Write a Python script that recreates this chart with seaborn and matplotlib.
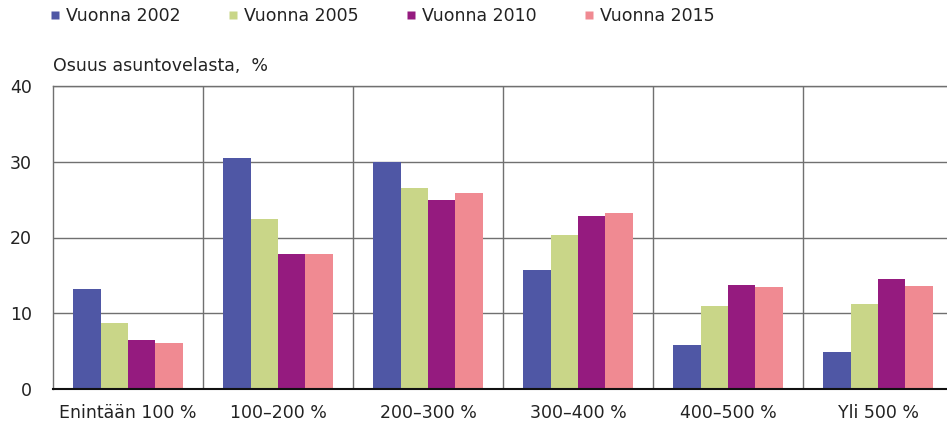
import matplotlib
matplotlib.use("Agg")
import matplotlib.pyplot as plt
from matplotlib.lines import Line2D
from matplotlib.ticker import FixedLocator
import pandas as pd
import seaborn as sns

categories = ["Enintään 100 %", "100–200 %", "200–300 %", "300–400 %", "400–500 %", "Yli 500 %"]
years = ["Vuonna 2002", "Vuonna 2005", "Vuonna 2010", "Vuonna 2015"]
v2002 = [13.2, 30.5, 30.0, 15.7, 5.85, 4.9]
v2005 = [8.75, 22.4, 26.5, 20.3, 10.9, 11.2]
v2010 = [6.45, 17.8, 25.0, 22.8, 13.7, 14.5]
v2015 = [6.1, 17.85, 25.9, 23.2, 13.45, 13.6]
colors = ["#4F57A5", "#C9D688", "#951B7F", "#F08A92"]
yticks = [0, 10, 20, 30, 40]

rows = []
for year, vals in zip(years, [v2002, v2005, v2010, v2015]):
    for cat, v in zip(categories, vals):
        rows.append({"cat": cat, "year": year, "value": v})
df = pd.DataFrame(rows)

sns.set_style("white")
plt.rcParams["font.family"] = ["DejaVu Sans"]
plt.rcParams["text.color"] = "#222222"

fig = plt.figure(figsize=(9.47, 4.28), dpi=100)
ax = fig.add_axes([53 / 947, 39 / 428, 900 / 947, 303 / 428])

sns.barplot(data=df, x="cat", y="value", hue="year", order=categories,
            hue_order=years, palette=colors, width=0.73, saturation=1,
            ax=ax, legend=False, edgecolor="none")

ax.set_xlim(-0.5, 5.5)
ax.set_ylim(0, 40)
ax.set_yticks(yticks)
ax.set_xlabel("")
ax.set_ylabel("")
ax.tick_params(axis="both", length=0, labelsize=12.5, colors="#222222")
ax.tick_params(axis="y", pad=15)
ax.tick_params(axis="x", pad=11)

ax.xaxis.set_minor_locator(FixedLocator([0.5, 1.5, 2.5, 3.5, 4.5]))
ax.grid(axis="y", which="major", color="#707070", linewidth=1.0)
ax.grid(axis="x", which="minor", color="#707070", linewidth=1.0)
ax.grid(axis="x", which="major", visible=False)
ax.tick_params(axis="x", which="minor", length=0)
ax.set_axisbelow(True)

for side in ["top", "left"]:
    ax.spines[side].set_color("#707070")
    ax.spines[side].set_linewidth(1.0)
ax.spines["right"].set_visible(False)
ax.spines["bottom"].set_color("#111111")
ax.spines["bottom"].set_linewidth(1.5)

ax.text(0, 1.035, "Osuus asuntovelasta,  %", transform=ax.transAxes,
        fontsize=12.5, ha="left", va="bottom")

handles = [Line2D([], [], marker="s", linestyle="none", markersize=6,
                  markerfacecolor=c, markeredgecolor="none") for c in colors]
fig.legend(handles, years, loc="upper left", bbox_to_anchor=(32 / 947, 1.02),
           ncol=4, frameon=False, fontsize=12.5, handlelength=0.8,
           handletextpad=0.25, columnspacing=2.6)

fig.savefig("out.png", dpi=100)
